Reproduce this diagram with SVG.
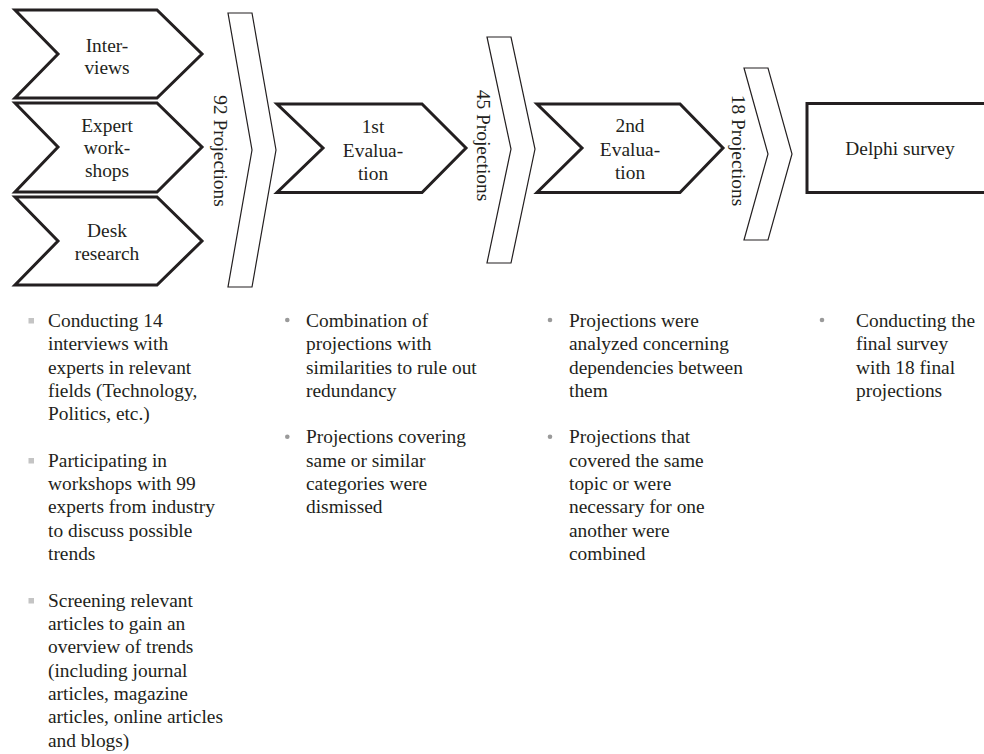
<svg xmlns="http://www.w3.org/2000/svg" width="984" height="754" viewBox="0 0 984 754">
<style>
.step{fill:#fff;stroke:#231f20;stroke-width:3;stroke-linejoin:miter}
.flow{fill:#fff;stroke:#231f20;stroke-width:1.2}
text{font-family:"Liberation Serif","Times New Roman",serif;font-size:19.4px;fill:#231f20}
.c{text-anchor:middle}
.sq{fill:#c4c4c4}
.dot{fill:#9a9a9a}
</style>
<rect width="984" height="754" fill="#fff"/>
<g id="interviews">
<polygon class="step" points="15,10 157,10 202,54 157,98 15,98 58,54"/>
<text class="c" x="107" y="51.5">Inter-</text>
<text class="c" x="107" y="73.5">views</text>
</g>
<g id="workshops">
<polygon class="step" points="15,103 157,103 202,147 157,192 15,192 58,147"/>
<text class="c" x="107" y="131.5">Expert</text>
<text class="c" x="107" y="154">work-</text>
<text class="c" x="107" y="176.5">shops</text>
</g>
<g id="desk">
<polygon class="step" points="15,197 157,197 202,241 157,285 15,285 58,241"/>
<text class="c" x="107" y="236.5">Desk</text>
<text class="c" x="107" y="259.5">research</text>
</g>
<g id="connectors">
<g id="flow92">
<polygon class="flow" points="228,13 252,13 276,150 252,287 228,287 252,150"/>
<text class="c" transform="translate(220,151) rotate(90)" dy="0.33em">92 Projections</text>
</g>
<g id="flow45">
<polygon class="flow" points="487,37 511,37 535,149 511,263 487,263 511,149"/>
<text class="c" transform="translate(483,145.5) rotate(90)" dy="0.33em">45 Projections</text>
</g>
<g id="flow18">
<polygon class="flow" points="744,68 768,68 792,154 768,240 744,240 768,154"/>
<text class="c" transform="translate(738,150.5) rotate(90)" dy="0.33em">18 Projections</text>
</g>
</g>
<g id="eval1">
<polygon class="step" points="277,104 422,104 466,148 422,192.5 277,192.5 323,148"/>
<text class="c" x="373" y="133">1st</text>
<text class="c" x="373" y="156.5">Evalua-</text>
<text class="c" x="373" y="180">tion</text>
</g>
<g id="eval2">
<polygon class="step" points="537,104 680,104 723,148 680,192.5 537,192.5 582,148"/>
<text class="c" x="630" y="132">2nd</text>
<text class="c" x="630" y="155.5">Evalua-</text>
<text class="c" x="630" y="179">tion</text>
</g>
<g id="delphi">
<rect class="step" x="807" y="103.5" width="200" height="89"/>
<text class="c" x="900" y="155">Delphi survey</text>
</g>
<g id="notes1">
<rect class="sq" x="28.5" y="318" width="5.5" height="5.5"/>
<rect class="sq" x="28.5" y="458" width="5.5" height="5.5"/>
<rect class="sq" x="28.5" y="598" width="5.5" height="5.5"/>
<text x="48" y="327">Conducting 14</text>
<text x="48" y="350.3">interviews with</text>
<text x="48" y="373.7">experts in relevant</text>
<text x="48" y="397">fields (Technology,</text>
<text x="48" y="420.3">Politics, etc.)</text>
<text x="48" y="466.7">Participating in</text>
<text x="48" y="490">workshops with 99</text>
<text x="48" y="513.3">experts from industry</text>
<text x="48" y="536.7">to discuss possible</text>
<text x="48" y="560">trends</text>
<text x="48" y="606.7">Screening relevant</text>
<text x="48" y="630">articles to gain an</text>
<text x="48" y="653.3">overview of trends</text>
<text x="48" y="676.7">(including journal</text>
<text x="48" y="700">articles, magazine</text>
<text x="48" y="723.3">articles, online articles</text>
<text x="48" y="746.7">and blogs)</text>
</g>
<g id="notes2">
<circle class="dot" cx="287.3" cy="320" r="2.3"/>
<circle class="dot" cx="287.3" cy="436.7" r="2.3"/>
<text x="306" y="327">Combination of</text>
<text x="306" y="350.3">projections with</text>
<text x="306" y="373.7">similarities to rule out</text>
<text x="306" y="397">redundancy</text>
<text x="306" y="443.3">Projections covering</text>
<text x="306" y="466.7">same or similar</text>
<text x="306" y="490">categories were</text>
<text x="306" y="513.3">dismissed</text>
</g>
<g id="notes3">
<circle class="dot" cx="550" cy="320" r="2.3"/>
<circle class="dot" cx="550" cy="436.7" r="2.3"/>
<text x="569" y="327">Projections were</text>
<text x="569" y="350.3">analyzed concerning</text>
<text x="569" y="373.7">dependencies between</text>
<text x="569" y="397">them</text>
<text x="569" y="443.3">Projections that</text>
<text x="569" y="466.7">covered the same</text>
<text x="569" y="490">topic or were</text>
<text x="569" y="513.3">necessary for one</text>
<text x="569" y="536.7">another were</text>
<text x="569" y="560">combined</text>
</g>
<g id="notes4">
<circle class="dot" cx="822" cy="320" r="2.3"/>
<text x="856" y="327">Conducting the</text>
<text x="856" y="350.3">final survey</text>
<text x="856" y="373.7">with 18 final</text>
<text x="856" y="397">projections</text>
</g>
</svg>
